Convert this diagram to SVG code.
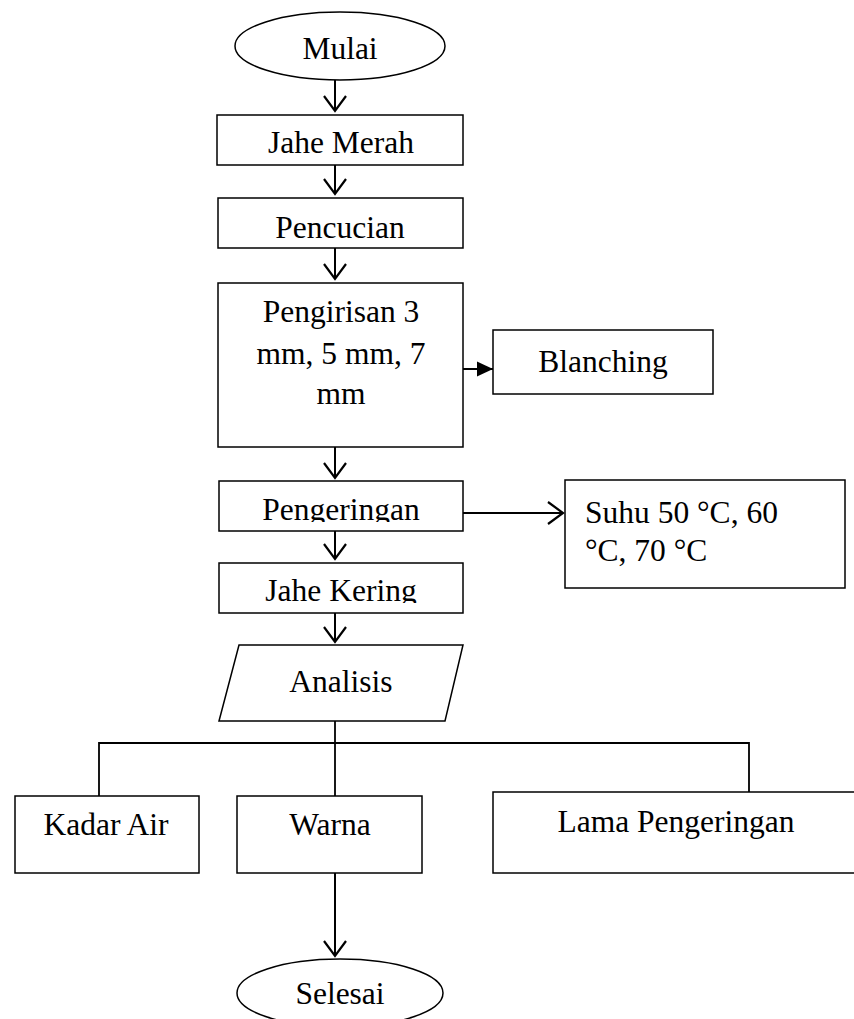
<svg xmlns="http://www.w3.org/2000/svg" width="854" height="1019" viewBox="0 0 854 1019">
<style>
  .box { fill: #ffffff; stroke: #000000; stroke-width: 1.5; }
  .t { font-family: "Liberation Serif", "Times New Roman", serif; font-size: 31.5px; fill: #000000; }
  .c { text-anchor: middle; }
  .ln { fill: none; stroke: #000000; stroke-width: 2; }
  .tree { fill: none; stroke: #000000; stroke-width: 1.8; }
</style>
<defs>
  <marker id="vopen" markerUnits="userSpaceOnUse" markerWidth="26" markerHeight="26" refX="15" refY="11" orient="auto" overflow="visible">
    <path d="M0,0 L15,11 L0,22" fill="none" stroke="#000" stroke-width="2.2"/>
  </marker>
  <marker id="vfill" markerUnits="userSpaceOnUse" markerWidth="18" markerHeight="18" refX="16" refY="7.5" orient="auto" overflow="visible">
    <path d="M0,0 L16,7.5 L0,15 Z" fill="#000" stroke="none"/>
  </marker>
  <clipPath id="clipPeng"><rect x="219" y="481" width="244" height="41"/></clipPath>
  <clipPath id="clipJK"><rect x="219" y="563" width="244" height="40"/></clipPath>
</defs>
<rect width="854" height="1019" fill="#ffffff"/>

<g id="connectors">
  <line class="ln" x1="335" y1="80" x2="335" y2="111" marker-end="url(#vopen)"/>
  <line class="ln" x1="335" y1="165" x2="335" y2="194" marker-end="url(#vopen)"/>
  <line class="ln" x1="335" y1="248" x2="335" y2="279" marker-end="url(#vopen)"/>
  <line class="ln" x1="463" y1="369" x2="493" y2="369" marker-end="url(#vfill)"/>
  <line class="ln" x1="335" y1="447" x2="335" y2="478" marker-end="url(#vopen)"/>
  <line class="ln" x1="463" y1="513" x2="563" y2="513" marker-end="url(#vopen)"/>
  <line class="ln" x1="335" y1="531" x2="335" y2="559" marker-end="url(#vopen)"/>
  <line class="ln" x1="335" y1="613" x2="335" y2="642" marker-end="url(#vopen)"/>
  <line class="tree" x1="335" y1="721" x2="335" y2="796"/>
  <polyline class="tree" points="99,796 99,743 749,743 749,792"/>
  <line class="ln" x1="335" y1="873" x2="335" y2="956" marker-end="url(#vopen)"/>
</g>

<g id="mulai">
  <ellipse class="box" cx="340" cy="46" rx="105" ry="34"/>
  <text class="t c" x="340" y="59">Mulai</text>
</g>
<g id="jahe-merah">
  <rect class="box" x="217" y="115" width="246" height="50"/>
  <text class="t c" x="341" y="153">Jahe Merah</text>
</g>
<g id="pencucian">
  <rect class="box" x="218" y="198" width="245" height="50"/>
  <text class="t c" x="340" y="238">Pencucian</text>
</g>
<g id="pengirisan">
  <rect class="box" x="218" y="283" width="245" height="164"/>
  <text class="t c" x="341" y="322">Pengirisan 3</text>
  <text class="t c" x="341" y="364">mm, 5 mm, 7</text>
  <text class="t c" x="341" y="404">mm</text>
</g>
<g id="blanching">
  <rect class="box" x="493" y="330" width="220" height="64"/>
  <text class="t c" x="603" y="372">Blanching</text>
</g>
<g id="pengeringan">
  <rect class="box" x="219" y="481" width="244" height="50"/>
  <text class="t c" x="341" y="520" clip-path="url(#clipPeng)">Pengeringan</text>
</g>
<g id="suhu">
  <rect class="box" x="565" y="480" width="280" height="108"/>
  <text class="t" x="585" y="523">Suhu 50 °C, 60</text>
  <text class="t" x="585" y="561">°C, 70 °C</text>
</g>
<g id="jahe-kering">
  <rect class="box" x="219" y="563" width="244" height="50"/>
  <text class="t c" x="341" y="601" clip-path="url(#clipJK)">Jahe Kering</text>
</g>
<g id="analisis">
  <polygon class="box" points="239,645 463,645 445,721 219,721"/>
  <text class="t c" x="341" y="692">Analisis</text>
</g>
<g id="kadar-air">
  <rect class="box" x="15" y="796" width="184" height="77"/>
  <text class="t c" x="106" y="835">Kadar Air</text>
</g>
<g id="warna">
  <rect class="box" x="237" y="796" width="185" height="77"/>
  <text class="t c" x="330" y="835">Warna</text>
</g>
<g id="lama-pengeringan">
  <rect class="box" x="493" y="792" width="370" height="81"/>
  <text class="t c" x="676" y="832">Lama Pengeringan</text>
</g>
<g id="selesai">
  <ellipse class="box" cx="340" cy="993" rx="103" ry="34"/>
  <text class="t c" x="340" y="1004">Selesai</text>
</g>
</svg>
